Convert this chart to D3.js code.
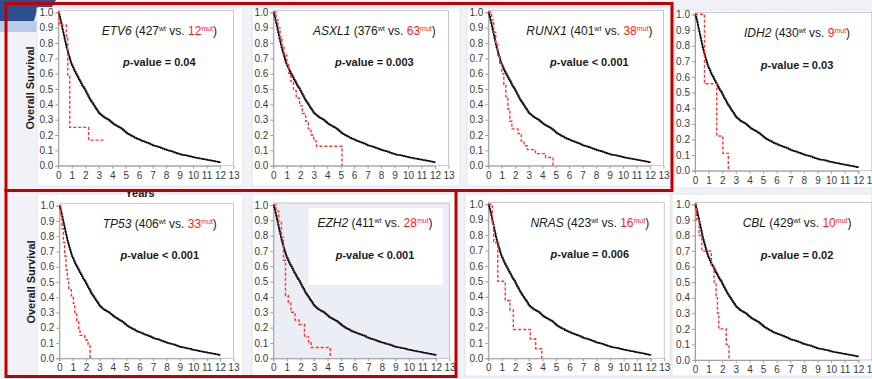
<!DOCTYPE html>
<html>
<head>
<meta charset="utf-8">
<script src="https://cdn.jsdelivr.net/npm/d3@7"></script>
<style>
  body { margin: 0; background: #f1f2f8; }
  svg { display: block; }
  .tick text { font-family: "Liberation Sans", Arial, sans-serif; font-size: 10px; fill: #3a3a3a; }
</style>
</head>
<body>
<svg width="872" height="379"></svg>
<script>
var svg = d3.select("svg"),
width = +svg.attr("width"),
height = +svg.attr("height")

// ---- data ----
var genes = ["ETV6", "ASXL1", "RUNX1", "IDH2", "TP53", "EZH2", "NRAS", "CBL"];
var wtCounts = [427, 376, 401, 430, 406, 411, 423, 429];
var mutCounts = [12, 63, 38, 9, 33, 28, 16, 10];
var pValues = ["= 0.04", "= 0.003", "< 0.001", "= 0.03", "< 0.001", "< 0.001", "= 0.006", "= 0.02"];
var yearTicks = [0, 1, 2, 3, 4, 5, 6, 7, 8, 9, 10, 11, 12, 13];
var survivalTicks = [0.0, 0.1, 0.2, 0.3, 0.4, 0.5, 0.6, 0.7, 0.8, 0.9, 1.0];

// wild type curve (years, survival), looks the same in every panel
var wildTypeSurvival = [[0,1],[0.05,0.985],[0.1,0.97],[0.15,0.95],[0.2,0.93],[0.25,0.91],[0.3,0.89],[0.35,0.87],
  [0.4,0.85],[0.45,0.83],[0.5,0.81],[0.55,0.79],[0.6,0.772],[0.65,0.756],[0.7,0.74],[0.75,0.725],[0.8,0.71],
  [0.85,0.695],[0.9,0.68],[0.95,0.667],[1.0,0.655],[1.08,0.64],[1.15,0.625],[1.22,0.612],[1.3,0.6],[1.38,0.587],
  [1.45,0.575],[1.52,0.562],[1.6,0.55],[1.68,0.537],[1.75,0.525],[1.82,0.515],[1.9,0.505],[1.98,0.492],[2.05,0.48],
  [2.12,0.467],[2.2,0.455],[2.28,0.442],[2.35,0.43],[2.42,0.42],[2.5,0.41],[2.58,0.4],[2.65,0.39],[2.72,0.38],
  [2.8,0.37],[2.88,0.36],[2.95,0.35],[3.02,0.342],[3.1,0.335],[3.2,0.327],[3.3,0.32],[3.4,0.315],[3.5,0.31],
  [3.6,0.305],[3.7,0.3],[3.8,0.292],[3.9,0.285],[4.0,0.277],[4.1,0.27],[4.2,0.265],[4.3,0.26],[4.4,0.255],
  [4.5,0.25],[4.6,0.245],[4.7,0.24],[4.8,0.232],[4.9,0.225],[5.0,0.217],[5.1,0.21],[5.2,0.205],[5.3,0.2],
  [5.4,0.195],[5.5,0.19],[5.65,0.182],[5.8,0.175],[5.95,0.17],[6.1,0.165],[6.25,0.16],[6.4,0.155],[6.55,0.15],
  [6.7,0.145],[6.85,0.138],[7.0,0.132],[7.15,0.128],[7.3,0.125],[7.45,0.12],[7.6,0.115],[7.75,0.11],[7.9,0.105],
  [8.05,0.101],[8.2,0.097],[8.35,0.094],[8.5,0.09],[8.65,0.085],[8.8,0.08],[8.95,0.076],[9.1,0.072],[9.25,0.07],
  [9.4,0.068],[9.55,0.065],[9.7,0.062],[9.85,0.058],[10,0.055],[10.15,0.052],[10.3,0.05],[10.45,0.047],[10.6,0.045],
  [10.75,0.042],[10.9,0.04],[11.05,0.037],[11.2,0.035],[11.35,0.032],[11.5,0.03],[11.65,0.027],[11.8,0.025],
  [11.9,0.022],[12,0.02]];

var etv6Mut = [[0,1],[0.05,0.917],[0.6,0.833],[0.7,0.583],[0.85,0.25],[2.25,0.167],[3.5,0.167]];
var asxl1Mut = [[0,1],[0.2,0.95],[0.35,0.9],[0.5,0.84],[0.65,0.78],[0.8,0.72],[1.0,0.66],[1.15,0.6],[1.3,0.55],
  [1.5,0.49],[1.7,0.44],[1.95,0.39],[2.15,0.34],[2.4,0.29],[2.6,0.24],[2.8,0.2],[3.0,0.16],[3.2,0.127],[5.1,0]];
var runx1Mut = [[0,1],[0.25,0.95],[0.4,0.87],[0.55,0.79],[0.7,0.71],[0.85,0.66],[1.0,0.6],[1.15,0.53],[1.3,0.45],
  [1.45,0.37],[1.6,0.29],[1.75,0.24],[2.2,0.21],[2.45,0.16],[2.65,0.13],[2.9,0.105],[3.5,0.079],[4.25,0.053],[4.8,0]];
var idh2Mut = [[0,1],[0.7,0.556],[1.6,0.222],[2.05,0.111],[2.45,0]];
var tp53Mut = [[0,1],[0.1,0.94],[0.2,0.85],[0.3,0.76],[0.4,0.67],[0.5,0.58],[0.6,0.52],[0.7,0.45],[0.9,0.41],
  [1.05,0.36],[1.15,0.3],[1.3,0.24],[1.45,0.18],[1.55,0.15],[1.9,0.12],[2.15,0.09],[2.3,0]];
var ezh2Mut = [[0,1],[0.2,0.96],[0.4,0.89],[0.6,0.79],[0.75,0.64],[0.9,0.41],[1.1,0.36],[1.3,0.3],[1.6,0.25],
  [1.9,0.22],[2.3,0.14],[2.6,0.1],[2.8,0.07],[4.2,0]];
var nrasMut = [[0,1],[0.3,0.875],[0.4,0.75],[0.7,0.5],[1.25,0.375],[1.6,0.3125],[1.85,0.1875],[3.1,0.125],[3.5,0.0625],[3.95,0]];
var cblMut = [[0,1],[0.1,0.9],[0.3,0.8],[0.5,0.7],[1.2,0.6],[1.4,0.5],[1.55,0.4],[1.65,0.3],[1.75,0.2],[2.3,0.1],[2.5,0]];
var mutantCurves = [etv6Mut, asxl1Mut, runx1Mut, idh2Mut, tp53Mut, ezh2Mut, nrasMut, cblMut];

// ---- layout (pixels) ----
var cards = [[37,8,206,178],[252,8,208,178],[467,8,203,178],[675,10,197,178],
             [37,194,206,182],[252,194,205,182],[465,194,205,182],[672,194,200,182]];
var plots = [ // x of year 0, x of year 12, y of 1.0, y of 0.0
  [58.3,220,12.3,165.7],[273.3,435,12.3,165.7],[488.3,650,12.3,165.7],[695,858.3,14.3,170.7],
  [59.3,220,205.7,358.3],[273.3,436,205,358.3],[488.3,650.7,204.3,358.3],[695,858.3,204.3,360]];

// slide header decoration
svg.append("polygon").attr("points", "0,0 56,0 52,7 38,7 34,21 0,21").style("fill", "#2c4f92");
svg.append("rect").attr("x", 0).attr("y", 21).attr("width", 37).attr("height", 11).style("fill", "#b9cbe6");

svg.append("g").selectAll("rect")
  .data(cards)
  .enter().append("rect")
  .attr("x", function(d) { return d[0]; })
  .attr("y", function(d) { return d[1]; })
  .attr("width", function(d) { return d[2]; })
  .attr("height", function(d) { return d[3]; })
  .style("fill", "#ffffff")
  .style("stroke", "#e2e4ec")
  .style("stroke-width", 1);

var textFont = "'Liberation Sans', Arial, sans-serif";

genes.forEach(function(gene, i) { drawPanel(i); });

function drawPanel(i) {
  var p = plots[i];
  var x = d3.scaleLinear().domain([0, 12]).range([p[0], p[1]]);
  var y = d3.scaleLinear().domain([0, 1]).range([p[3], p[2]]);
  var g = svg.append("g").attr("class", "panel");

  g.append("rect")
    .attr("x", x(0)).attr("y", y(1) - 2)
    .attr("width", x(13) - x(0)).attr("height", y(0) - y(1) + 2)
    .style("fill", i == 5 ? "#eceef6" : "none")
    .style("stroke", "#b8b8b8")
    .style("stroke-width", 0.8);

  if (i == 5) {
    // white legend box of EZH2 panel
    g.append("rect")
      .attr("x", x(2.6)).attr("y", y(0.98))
      .attr("width", x(12.5) - x(2.6)).attr("height", y(0.48) - y(0.98))
      .style("fill", "#ffffff");
  }

  g.append("g")
    .attr("transform", "translate(" + x(0) + ",0)")
    .call(d3.axisLeft(y).tickValues(survivalTicks).tickFormat(d3.format(".1f")).tickSize(3).tickPadding(2));
  g.append("g")
    .attr("transform", "translate(0," + y(0) + ")")
    .call(d3.axisBottom(x).tickValues(yearTicks).tickSize(3).tickPadding(3));
  g.selectAll(".domain, .tick line").style("stroke", "#a0a0a0");

  var line = d3.line()
    .x(function(d) { return x(d[0]); })
    .y(function(d) { return y(d[1]); })
    .curve(d3.curveStepAfter);

  g.append("path")
    .datum(wildTypeSurvival)
    .attr("d", line)
    .style("fill", "none")
    .style("stroke", "#111111")
    .style("stroke-width", 1.5);

  g.append("path")
    .datum(mutantCurves[i])
    .attr("d", line)
    .style("fill", "none")
    .style("stroke", "#ff3333")
    .style("stroke-width", 1.4)
    .style("stroke-dasharray", "3,2");

  var title = g.append("text")
    .attr("x", x(7.5)).attr("y", y(0.855))
    .attr("text-anchor", "middle")
    .style("font-family", textFont)
    .style("font-size", "12px")
    .style("fill", "#1a1a1a");
  title.append("tspan").style("font-style", "italic").text(genes[i]);
  title.append("tspan").text(" (" + wtCounts[i]);
  title.append("tspan").attr("dy", -4).style("font-size", "7px").text("wt");
  title.append("tspan").attr("dy", 4).text(" vs. ");
  title.append("tspan").style("fill", "#ff1a1a").text(mutCounts[i]);
  title.append("tspan").attr("dy", -4).style("font-size", "7px").style("fill", "#ff1a1a").text("mut");
  title.append("tspan").attr("dy", 4).text(")");

  var pv = g.append("text")
    .attr("x", x(7.5)).attr("y", y(0.65))
    .attr("text-anchor", "middle")
    .style("font-family", textFont)
    .style("font-size", "11px")
    .style("font-weight", "bold")
    .style("fill", "#1a1a1a");
  pv.append("tspan").style("font-style", "italic").text("p");
  pv.append("tspan").text("-value " + pValues[i]);
}

// y axis titles
[88, 282].forEach(function(cy, k) {
  svg.append("text")
    .attr("transform", "translate(" + (k == 0 ? 34 : 35) + "," + cy + ") rotate(-90)")
    .attr("text-anchor", "middle")
    .style("font-family", textFont)
    .style("font-size", "11px")
    .style("font-weight", "bold")
    .style("fill", "#1a1a1a")
    .text("Overall Survival");
});

svg.append("text")
  .attr("x", 140).attr("y", 197)
  .attr("text-anchor", "middle")
  .style("font-family", textFont)
  .style("font-size", "11px")
  .style("font-weight", "bold")
  .style("fill", "#1a1a1a")
  .text("Years");

// red highlight boxes
svg.append("rect")
  .attr("x", 6).attr("y", 3.5).attr("width", 666).attr("height", 187)
  .style("fill", "none").style("stroke", "#c00000").style("stroke-width", 3);
svg.append("rect")
  .attr("x", 6).attr("y", 190.5).attr("width", 450).attr("height", 186)
  .style("fill", "none").style("stroke", "#c00000").style("stroke-width", 3);
</script>
</body>
</html>
